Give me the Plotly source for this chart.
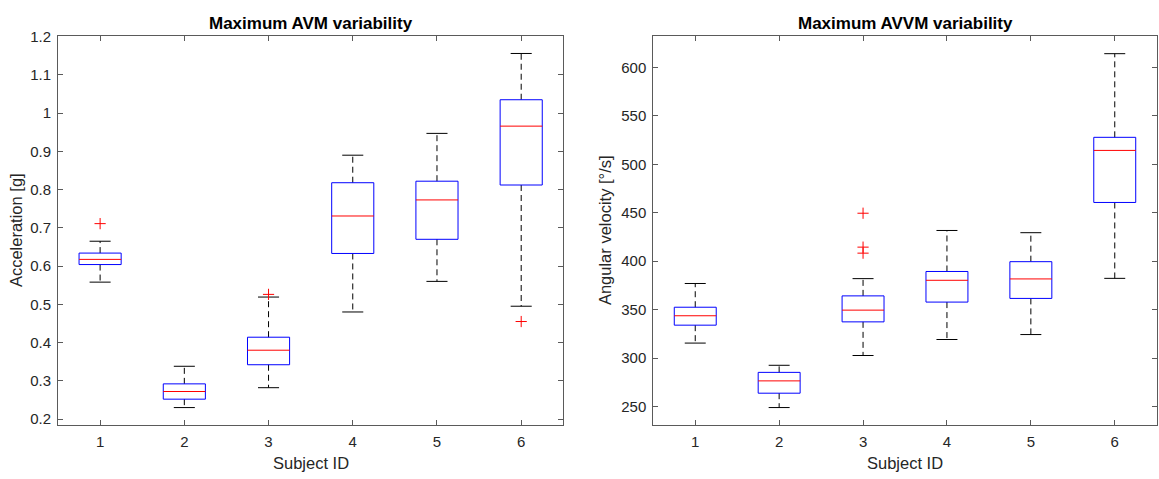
import plotly.graph_objects as go

W, H = 1159, 479

# ---- data: Maximum AVM variability (acceleration, g) ----
subjects = [1, 2, 3, 4, 5, 6]
acc_q1 = [0.604, 0.252, 0.342, 0.633, 0.670, 0.812]
acc_median = [0.6175, 0.272, 0.380, 0.731, 0.773, 0.966]
acc_q3 = [0.634, 0.292, 0.414, 0.818, 0.822, 1.035]
acc_low = [0.558, 0.230, 0.282, 0.480, 0.560, 0.495]
acc_high = [0.665, 0.338, 0.519, 0.890, 0.947, 1.156]
acc_out_subject = [1, 3, 6]
acc_out_value = [0.711, 0.526, 0.455]

# ---- data: Maximum AVVM variability (angular velocity, deg/s) ----
avel_q1 = [334.0, 263.8, 337.4, 357.8, 361.6, 460.6]
avel_median = [343.7, 276.5, 349.5, 380.3, 381.7, 514.3]
avel_q3 = [352.5, 285.3, 364.2, 389.4, 399.5, 527.8]
avel_low = [315.5, 249.0, 302.7, 319.2, 324.3, 382.3]
avel_high = [377.0, 292.6, 382.0, 431.7, 429.4, 614.1]
avel_out_subject = [3, 3, 3]
avel_out_value = [449.5, 414.5, 408.3]

acc_ticks = [0.2, 0.3, 0.4, 0.5, 0.6, 0.7, 0.8, 0.9, 1.0, 1.1, 1.2]
acc_ticklabels = ["0.2", "0.3", "0.4", "0.5", "0.6", "0.7", "0.8", "0.9", "1", "1.1", "1.2"]
avel_ticks = [250, 300, 350, 400, 450, 500, 550, 600]

BOX_HALF = 0.25
CAP_HALF = 0.125
FONT = "Arial, Liberation Sans, sans-serif"
TEXT = "#262626"
AXIS = "#5a5a5a"


def box_traces(xs, q1, med, q3, lo, hi, out_x, out_y, xa, ya):
    bx, by, mx, my, wx, wy, cx, cy = [], [], [], [], [], [], [], []
    for s, a, m, b, l, h in zip(xs, q1, med, q3, lo, hi):
        bx += [s - BOX_HALF, s + BOX_HALF, s + BOX_HALF, s - BOX_HALF, s - BOX_HALF, None]
        by += [a, a, b, b, a, None]
        mx += [s - BOX_HALF, s + BOX_HALF, None]
        my += [m, m, None]
        wx += [s, s, None, s, s, None]
        wy += [b, h, None, a, l, None]
        cx += [s - CAP_HALF, s + CAP_HALF, None, s - CAP_HALF, s + CAP_HALF, None]
        cy += [h, h, None, l, l, None]
    common = dict(xaxis=xa, yaxis=ya, showlegend=False, hoverinfo="skip")
    return [
        go.Scatter(x=wx, y=wy, mode="lines",
                   line=dict(color="#000000", width=1, dash="6px,4px"), **common),
        go.Scatter(x=cx, y=cy, mode="lines", line=dict(color="#000000", width=1), **common),
        go.Scatter(x=bx, y=by, mode="lines", line=dict(color="#0000ff", width=1), **common),
        go.Scatter(x=mx, y=my, mode="lines", line=dict(color="#ff0000", width=1), **common),
        go.Scatter(x=out_x, y=out_y, mode="markers",
                   marker=dict(symbol="cross-thin", size=8,
                               line=dict(color="#ff0000", width=1)), **common),
    ]


fig = go.Figure()
for t in box_traces(subjects, acc_q1, acc_median, acc_q3, acc_low, acc_high,
                    acc_out_subject, acc_out_value, "x", "y"):
    fig.add_trace(t)
for t in box_traces(subjects, avel_q1, avel_median, avel_q3, avel_low, avel_high,
                    avel_out_subject, avel_out_value, "x2", "y2"):
    fig.add_trace(t)


def px_x(p):
    return p / W


def px_y(p):
    return 1 - p / H


top, bottom = 28.3, 426.3
left1, right1 = 58.0, 563.3
left2, right2 = 653.3, 1156.7

axis_common = dict(showline=True, linecolor=AXIS, linewidth=1, mirror="ticks",
                   ticks="inside", ticklen=5, tickcolor=AXIS, showgrid=False,
                   zeroline=False, ticklabelstandoff=3,
                   tickfont=dict(family=FONT, size=15, color=TEXT))

fig.update_layout(
    width=W, height=H, autosize=False,
    margin=dict(l=0, r=0, t=0, b=0),
    paper_bgcolor="white", plot_bgcolor="white",
    xaxis=dict(domain=[px_x(left1), px_x(right1)], range=[0.5, 6.5],
               tickvals=subjects, anchor="y", **axis_common),
    yaxis=dict(domain=[px_y(bottom), px_y(top)], range=[0.1857, 1.2026],
               tickvals=acc_ticks, ticktext=acc_ticklabels, anchor="x", **axis_common),
    xaxis2=dict(domain=[px_x(left2), px_x(right2)], range=[0.5, 6.5],
                tickvals=subjects, anchor="y2", **axis_common),
    yaxis2=dict(domain=[px_y(bottom), px_y(top)], range=[231.5, 632.7],
                tickvals=avel_ticks, anchor="x2", **axis_common),
)

ann = []
ann.append(dict(text="<b>Maximum AVM variability</b>", x=px_x((left1 + right1) / 2), y=px_y(16),
                font=dict(family=FONT, size=17, color="#000000")))
ann.append(dict(text="<b>Maximum AVVM variability</b>", x=px_x((left2 + right2) / 2), y=px_y(16),
                font=dict(family=FONT, size=17, color="#000000")))
ann.append(dict(text="Subject ID", x=px_x((left1 + right1) / 2), y=px_y(466),
                font=dict(family=FONT, size=16.5, color=TEXT)))
ann.append(dict(text="Subject ID", x=px_x((left2 + right2) / 2), y=px_y(466),
                font=dict(family=FONT, size=16.5, color=TEXT)))
ann.append(dict(text="Acceleration [g]", x=px_x(16), y=px_y((top + bottom) / 2), textangle=-90,
                font=dict(family=FONT, size=16.5, color=TEXT)))
ann.append(dict(text="Angular velocity [°/s]", x=px_x(605), y=px_y((top + bottom) / 2), textangle=-90,
                font=dict(family=FONT, size=16.5, color=TEXT)))
for a in ann:
    a.update(xref="paper", yref="paper", showarrow=False, xanchor="center", yanchor="middle")
fig.update_layout(annotations=ann)

fig.write_html("out.html")
